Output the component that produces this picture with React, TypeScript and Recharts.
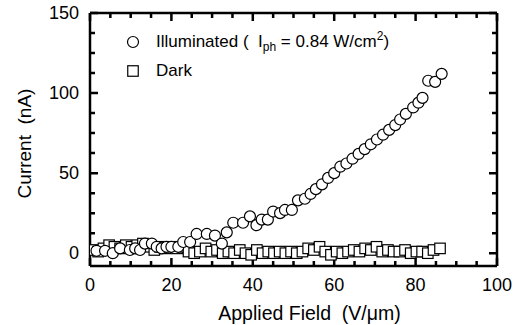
import React from 'react'
import { ScatterChart, Scatter, XAxis, YAxis, Label, ReferenceLine } from 'recharts'

// Photocurrent under illumination vs. applied field
const illumField = [
  1.6, 3.7, 5.6, 7.4, 9.8, 11.1, 12.3, 13.5, 15.2, 16.4, 17.6, 18.8, 20.0, 21.7,
  22.9, 24.6, 26.2, 28.7, 30.7, 32.4, 33.6, 35.2, 37.6, 39.3, 40.9, 42.2, 43.7,
  45.0, 46.7, 47.9, 49.6, 51.1, 52.8, 54.2, 55.5, 57.0, 58.5, 60.0, 61.5, 63.0,
  64.5, 66.0, 67.5, 69.0, 70.5, 72.0, 73.5, 75.0, 76.2, 77.6, 79.4, 80.7, 81.7,
  83.1, 84.8, 86.4
]
const illumCurrent = [
  1.5, 1.5, 0, 3, 2, 3, 2, 6, 6, 4, 3, 4, 4, 4,
  7, 7, 12, 12, 11, 6, 13, 19, 19, 23, 17.5, 21, 21,
  26, 25, 27, 27, 33, 34, 37, 40, 43, 47, 50, 54, 56,
  59, 62, 65, 68, 71, 74, 77, 80, 83.5, 87, 91, 94, 97,
  107.7, 107, 112
]

// Dark current vs. applied field
const darkField = [
  0.5, 2.0, 3.3, 4.7, 6.0, 7.4, 8.8, 10.2, 11.6, 13.0, 14.4, 15.8, 17.2, 18.6,
  20.0, 21.4, 22.8, 24.2, 25.6, 27.0, 28.4, 29.8, 31.2, 32.6, 34.0, 35.4, 36.8,
  38.2, 39.6, 41.0, 42.4, 43.8, 45.2, 46.6, 48.0, 49.4, 50.8, 52.2, 53.6, 55.0,
  56.4, 57.8, 59.2, 60.6, 62.0, 63.4, 64.8, 66.2, 67.6, 69.0, 70.4, 71.8, 73.2,
  74.6, 76.0, 77.4, 78.8, 80.2, 81.6, 83.0, 84.4, 86.0
]
const darkCurrent = [
  2, 1, 3, 5, 4, 3, 5, 4, 5, 6, 4, 2, 4, 3,
  4, 3, 4, 1, 0, 1, 3, 1, 2, 0, 1, 0, 2,
  0, -1, 2, 0, 1, 0, 1, 0, 1, 0, 1, 3, 2,
  4, 1, -1, 1, 0, 1, 2, 1, 3, 2, 4, 1, 2,
  1, 1, 2, 0, 1, 1, 0, 2, 3
]

const xTicks = [0, 5, 10, 15, 20, 25, 30, 35, 40, 45, 50, 55, 60, 65, 70, 75, 80, 85, 90, 95, 100]
const xLabelled = [0, 20, 40, 60, 80, 100]
const yTicks = [0, 12.5, 25, 37.5, 50, 62.5, 75, 87.5, 100, 112.5, 125, 137.5, 150]
const yLabelled = [0, 50, 100, 150]

const illumData = illumField.map((f, i) => ({ field: f, current: illumCurrent[i] }))
const darkData = darkField.map((f, i) => ({ field: f, current: darkCurrent[i] }))

const FONT = '"Liberation Sans", Arial, Helvetica, sans-serif'
const MAJOR = 8
const MINOR = 5

const OpenCircle = (p: any) => (
  <circle cx={p.cx} cy={p.cy} r={5.5} fill="#fff" stroke="#000" strokeWidth={1.2} />
)
const OpenSquare = (p: any) => (
  <rect x={p.cx - 5.25} y={p.cy - 5.25} width={10.5} height={10.5} fill="#fff" stroke="#000" strokeWidth={1.2} />
)

// tick labels only; the marks themselves are drawn by ReferenceLine shapes
const BottomLabel = ({ x, y, payload }: any) =>
  xLabelled.includes(payload.value) ? (
    <text x={x} y={y + 25} textAnchor="middle" fontSize={18} fontFamily={FONT} fill="#000">
      {payload.value}
    </text>
  ) : null

const LeftLabel = ({ x, y, payload }: any) =>
  yLabelled.includes(payload.value) ? (
    <text x={x - 11} y={y + 6} textAnchor="end" fontSize={18} fontFamily={FONT} fill="#000">
      {payload.value}
    </text>
  ) : null

// inward tick pair at both ends of a vertical reference line
const vTicks = (len: number) => (p: any) => {
  const top = Math.min(p.y1, p.y2)
  const bot = Math.max(p.y1, p.y2)
  return (
    <path
      d={`M${p.x1},${top}V${top + len}M${p.x1},${bot}V${bot - len}`}
      stroke="#000"
      strokeWidth={2.5}
      fill="none"
    />
  )
}
// inward tick pair at both ends of a horizontal reference line
const hTicks = (len: number) => (p: any) => {
  const left = Math.min(p.x1, p.x2)
  const right = Math.max(p.x1, p.x2)
  return (
    <path
      d={`M${left},${p.y1}H${left + len}M${right},${p.y1}H${right - len}`}
      stroke="#000"
      strokeWidth={2.5}
      fill="none"
    />
  )
}

const XTitle = ({ viewBox }: any) => (
  <text
    x={viewBox.x + viewBox.width / 2 + 16}
    y={viewBox.y + 54}
    textAnchor="middle"
    fontSize={19.5}
    fontFamily={FONT}
    fill="#000"
    style={{ whiteSpace: 'pre' }}
  >
    {'Applied Field  (V/\u03bcm)'}
  </text>
)
const YTitle = ({ viewBox }: any) => {
  const cx = viewBox.x + 31
  const cy = viewBox.y + viewBox.height / 2 + 4
  return (
    <text
      x={cx}
      y={cy}
      transform={`rotate(-90 ${cx} ${cy})`}
      textAnchor="middle"
      fontSize={19}
      fontFamily={FONT}
      fill="#000"
      style={{ whiteSpace: 'pre' }}
    >
      {'Current  (nA)'}
    </text>
  )
}

const axisLine = { stroke: '#000', strokeWidth: 2.5 }

function Key() {
  const row: React.CSSProperties = { display: 'flex', alignItems: 'center', height: 29, whiteSpace: 'pre' }
  return (
    <div style={{ position: 'absolute', left: 126, top: 27, fontFamily: FONT, fontSize: 17, color: '#000' }}>
      <div style={row}>
        <svg width={30} height={20}>
          <circle cx={7} cy={10} r={5.5} fill="#fff" stroke="#000" strokeWidth={1.2} />
        </svg>
        <span>
          Illuminated (  I<sub style={{ fontSize: 12 }}>ph</sub> = 0.84 W/cm<sup style={{ fontSize: 12 }}>2</sup>)
        </span>
      </div>
      <div style={row}>
        <svg width={30} height={20}>
          <rect x={1.75} y={4.75} width={10.5} height={10.5} fill="#fff" stroke="#000" strokeWidth={1.2} />
        </svg>
        <span>Dark</span>
      </div>
    </div>
  )
}

export default function App() {
  return (
    <div style={{ position: 'absolute', left: 0, top: 0, width: 526, height: 325, background: '#fff' }}>
      <ScatterChart width={526} height={325} margin={{ top: 0, right: 0, bottom: 0, left: 0 }}>
        <XAxis
          xAxisId="b"
          dataKey="field"
          type="number"
          domain={[0, 100]}
          allowDataOverflow
          ticks={xTicks}
          interval={0}
          height={59}
          tickSize={0}
          tickMargin={0}
          axisLine={axisLine}
          tickLine={false}
          tick={<BottomLabel />}
        >
          <Label content={<XTitle />} />
        </XAxis>
        <XAxis
          xAxisId="t"
          orientation="top"
          type="number"
          domain={[0, 100]}
          allowDataOverflow
          height={13}
          axisLine={axisLine}
          tickLine={false}
          tick={false}
        />
        <YAxis
          yAxisId="l"
          dataKey="current"
          type="number"
          domain={[-8, 150]}
          allowDataOverflow
          ticks={yTicks}
          interval={0}
          width={90}
          tickSize={0}
          tickMargin={0}
          axisLine={axisLine}
          tickLine={false}
          tick={<LeftLabel />}
        >
          <Label content={<YTitle />} />
        </YAxis>
        <YAxis
          yAxisId="r"
          orientation="right"
          type="number"
          domain={[-8, 150]}
          allowDataOverflow
          width={29}
          axisLine={axisLine}
          tickLine={false}
          tick={false}
        />
        {xTicks.map((v) => (
          <ReferenceLine
            key={`xt${v}`}
            xAxisId="b"
            yAxisId="l"
            x={v}
            ifOverflow="visible"
            shape={vTicks(xLabelled.includes(v) ? MAJOR : MINOR)}
          />
        ))}
        {yTicks.map((v) => (
          <ReferenceLine
            key={`yt${v}`}
            xAxisId="b"
            yAxisId="l"
            y={v}
            ifOverflow="visible"
            shape={hTicks(yLabelled.includes(v) ? MAJOR : MINOR)}
          />
        ))}
        <Scatter
          name="Dark"
          data={darkData}
          xAxisId="b"
          yAxisId="l"
          shape={<OpenSquare />}
          isAnimationActive={false}
        />
        <Scatter
          name="Illuminated"
          data={illumData}
          xAxisId="b"
          yAxisId="l"
          shape={<OpenCircle />}
          isAnimationActive={false}
        />
      </ScatterChart>
      <Key />
    </div>
  )
}
